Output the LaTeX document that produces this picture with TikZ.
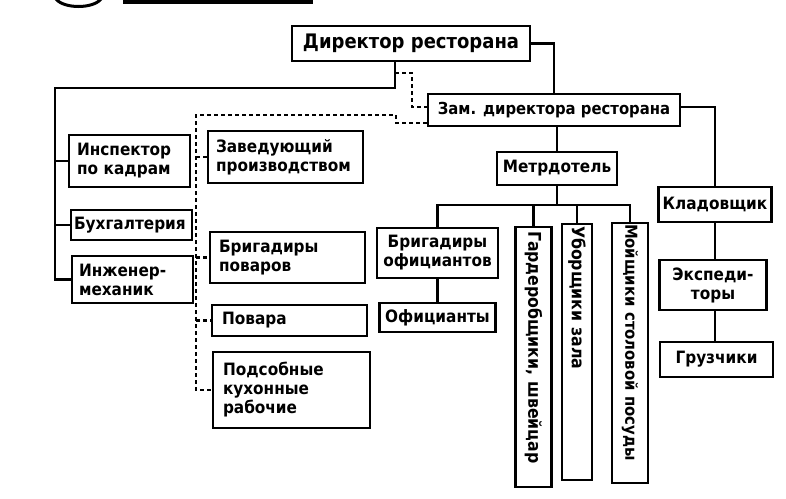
\documentclass[tikz,border=0pt]{standalone}
\usepackage{fontspec}
\setmainfont{DejaVu Sans}[FakeStretch=0.9]
\newcommand{\bx}{\fontsize{17}{19}\selectfont\bfseries}

\begin{document}
\begin{tikzpicture}[x=1pt,y=-1pt]
    \tikzstyle{box}=[draw, line width=2.3pt, inner sep=0pt, font=\bx]
    \tikzstyle{lbox}=[box, align=left]
    \tikzstyle{cbox}=[box, align=center]
    \tikzstyle{vbox}=[box, rotate=-90, align=left, text width=252, font=\fontsize{17.5}{20}\selectfont\bfseries]
    \tikzstyle{link}=[line width=2.8pt]
    \tikzstyle{dlink}=[line width=2.4pt, dash pattern=on 4pt off 3pt]
    \useasboundingbox (0,0) rectangle (786,498);
    \draw[line width=3pt] (56,-1) .. controls (64,9) and (93,9) .. (101,-1);
    \fill (123,-3) rectangle (313,3.5);

    \node[cbox, minimum width=238, minimum height=35, font=\fontsize{20}{22}\selectfont\bfseries] (dir) at (411,43.5) {Директор ресторана};
    \node[cbox, minimum width=252, minimum height=32, font=\fontsize{16.5}{19}\selectfont\bfseries] (zam) at (554,110) {Зам. директора ресторана};

    \node[lbox, minimum width=121, minimum height=52, text width=105] (insp) at (129.5,161) {Инспектор\\по кадрам};
    \node[lbox, minimum width=121, minimum height=30, text width=115] (buh) at (131.5,225) {Бухгалтерия};
    \node[lbox, minimum width=121, minimum height=47, text width=107] (ing) at (132.5,279.5) {Инженер-\\механик};

    \node[lbox, minimum width=155, minimum height=52, text width=139] (zav) at (285.5,157) {Заведующий\\производством};
    \node[lbox, minimum width=155, minimum height=51, text width=137] (brp) at (287.5,257.5) {Бригадиры\\поваров};
    \node[lbox, minimum width=155, minimum height=31, text width=135] (pov) at (289.5,320.5) {Повара};
    \node[lbox, minimum width=157, minimum height=76, text width=137] (pod) at (291.5,390) {Подсобные\\кухонные\\рабочие};

    \node[cbox, minimum width=120, minimum height=33] (met) at (557,168.5) {Метрдотель};
    \node[cbox, minimum width=121, minimum height=50] (bro) at (437.5,253) {Бригадиры\\официантов};
    \node[cbox, minimum width=116, minimum height=29] (ofi) at (437.5,317.5) {Официанты};
    \node[vbox, minimum width=260, minimum height=36] (gar) at (533.5,357) {Гардеробщики, швейцар};
    \node[vbox, minimum width=256, minimum height=30] (ubo) at (577,352) {Уборщики зала};
    \node[vbox, minimum width=260, minimum height=36, text width=258, font=\fontsize{16.5}{20}\selectfont\bfseries] (moi) at (630,353) {Мойщики столовой посуды};

    \node[cbox, minimum width=113, minimum height=35] (kla) at (715,204.5) {Кладовщик};
    \node[cbox, minimum width=107, minimum height=50] (exp) at (713,285) {Экспеди-\\торы};
    \node[cbox, minimum width=113, minimum height=35] (gru) at (716.5,359.5) {Грузчики};

    \coordinate (lb) at (55,88);
    \coordinate (dj) at (395,73);
    \coordinate (lt) at (196,115);
    \coordinate (mb) at (557,205);

    \draw[link] ([xshift=-16pt]dir.south) |- (lb) |- (ing.west);
    \draw[link] (lb |- insp.west) -- (insp.west);
    \draw[link] (lb |- buh.west) -- (buh.west);
    \draw[link] (dir.east) -| (zam.north);

    \draw[dlink] (dj) -- ++(17,0) |- ([yshift=3pt]zam.west);
    \draw[dlink] ([yshift=-13pt]zam.west) -- ++(-31,0) |- (lt) |- (pod.west);
    \draw[dlink] (lt |- zav.west) -- (zav.west);
    \draw[dlink] (lt |- brp.west) -- (brp.west);
    \draw[dlink] (lt |- pov.west) -- (pov.west);

    \draw[link] (zam.south -| met.north) -- (met.north);
    \draw[link] (met.south) -- (mb);
    \draw[link] (bro.north) |- (mb) -| (moi.west);
    \draw[link] (gar.west |- mb) -- (gar.west);
    \draw[link] (ubo.west |- mb) -- (ubo.west);
    \draw[link] (bro.south) -- (ofi.north);

    \draw[link] ([yshift=3pt]zam.east) -| (kla.north);
    \draw[link] (kla.south) -- (kla.south |- exp.north);
    \draw[link] (kla.south |- exp.south) -- (kla.south |- gru.north);
\end{tikzpicture}
\end{document}
